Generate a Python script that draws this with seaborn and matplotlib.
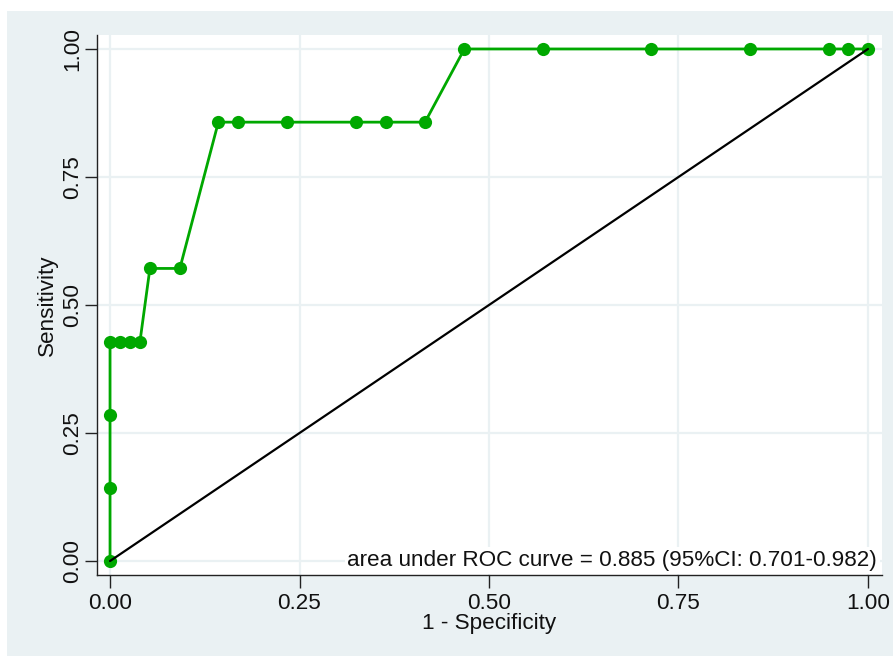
import matplotlib
matplotlib.use("Agg")
import matplotlib.pyplot as plt
import seaborn as sns
import pandas as pd
from matplotlib.patches import Rectangle

# ROC curve coordinates (1 - specificity, sensitivity)
fpr = [0.0, 0.0, 0.0, 0.0, 0.0132, 0.0263, 0.0395, 0.0526, 0.0921,
       0.1429, 0.1689, 0.2338, 0.3247, 0.3636, 0.4156,
       0.4675, 0.5714, 0.7143, 0.8442, 0.9481, 0.9740, 1.0]
tpr = [0.0, 0.1429, 0.2857, 0.4286, 0.4286, 0.4286, 0.4286, 0.5714, 0.5714,
       0.8571, 0.8571, 0.8571, 0.8571, 0.8571, 0.8571,
       1.0, 1.0, 1.0, 1.0, 1.0, 1.0, 1.0]
ref_x = [0.0, 1.0]
ref_y = [0.0, 1.0]
ticks = [0.0, 0.25, 0.5, 0.75, 1.0]
tick_labels = ["0.00", "0.25", "0.50", "0.75", "1.00"]
auc_text = "area under ROC curve = 0.885 (95%CI: 0.701-0.982)"

sns.set_theme(style="white")
plt.rcParams["font.family"] = ["Liberation Sans", "DejaVu Sans"]

W, H = 893, 656
FS = 16.2
fig = plt.figure(figsize=(W / 100, H / 100), dpi=100, facecolor="white")
bg = "#EAF1F3"
fig.patches.append(Rectangle((7 / W, 0), 1 - 7 / W, 1 - 11 / H,
                             transform=fig.transFigure, facecolor=bg,
                             edgecolor="none", zorder=-10))

ax = fig.add_axes([97 / W, (H - 575) / H, (882 - 97) / W, (575 - 35) / H])
ax.set_facecolor("white")

df = pd.DataFrame({"fpr": fpr, "tpr": tpr})
sns.lineplot(data=df, x="fpr", y="tpr", sort=False, estimator=None,
             color="#00A800", linewidth=2, marker="o", markersize=9.5,
             markeredgewidth=0, ax=ax, zorder=3)
sns.lineplot(x=ref_x, y=ref_y, color="black", linewidth=1.6,
             estimator=None, sort=False, ax=ax, zorder=4)

ax.set_xlim(-0.0172, 1.0185)
ax.set_ylim(-0.0273, 1.0273)
ax.set_xticks(ticks)
ax.set_xticklabels(tick_labels)
ax.set_yticks(ticks)
ax.set_yticklabels(tick_labels, rotation=90, va="center")
ax.grid(True, color="#EAF1F3", linewidth=1.6)
ax.set_axisbelow(True)

for s in ["top", "right"]:
    ax.spines[s].set_visible(False)
for s in ["left", "bottom"]:
    ax.spines[s].set_color("#222222")
    ax.spines[s].set_linewidth(1.0)

ax.tick_params(axis="both", which="major", direction="out", length=9,
               width=1.0, color="#222222", labelsize=FS, labelcolor="#111111",
               bottom=True, left=True)
ax.tick_params(axis="x", pad=4)
ax.tick_params(axis="y", pad=1)

ax.set_xlabel("1 - Specificity", fontsize=FS, color="#111111", labelpad=-1)
ax.set_ylabel("Sensitivity", fontsize=FS, color="#111111", labelpad=3)

ax.text(1.012, -0.0098, auc_text, ha="right", va="baseline", fontsize=FS,
        color="#111111", zorder=5,
        bbox=dict(facecolor="white", edgecolor="none", pad=2))

fig.savefig("out.png", dpi=100, facecolor="white")
